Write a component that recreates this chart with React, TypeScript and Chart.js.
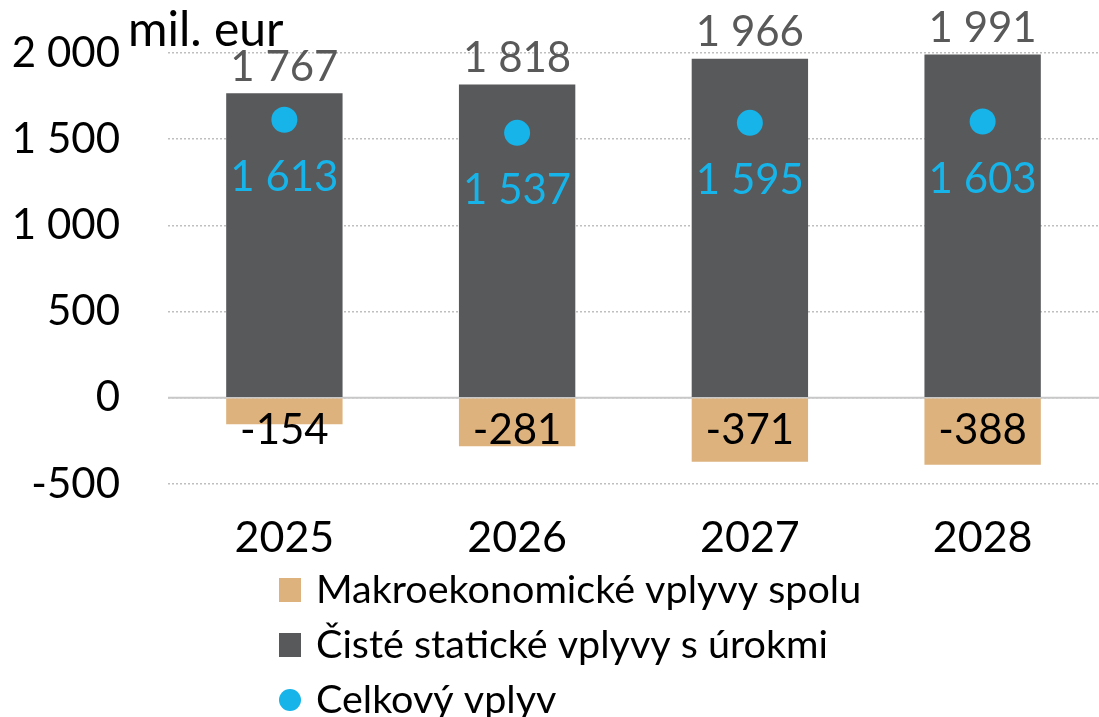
import React, { useEffect, useRef } from "react";
import { Chart, registerables } from "chart.js";

Chart.register(...registerables);

const categories = ["2025", "2026", "2027", "2028"];
const macroValues = [-154, -281, -371, -388];
const staticValues = [1767, 1818, 1966, 1991];
const totalValues = [1613, 1537, 1595, 1603];
const yTicks = [-500, 0, 500, 1000, 1500, 2000];
const legendLabels = ["Makroekonomické vplyvy spolu", "Čisté statické vplyvy s úrokmi", "Celkový vplyv"];
const unitLabel = "mil. eur";

const FONT = "Lato, 'Open Sans', sans-serif";
const FS = 42;
const TAN = "#DDB27C";
const DARK = "#58595B";
const BLUE = "#16B4E9";

const fmt = (v: number) => {
  const s = Math.abs(v).toString().replace(/\B(?=(\d{3})+(?!\d))/g, " ");
  return (v < 0 ? "-" : "") + s;
};

const labelsPlugin = {
  id: "customLabels",
  beforeDatasetsDraw(chart: any) {
    const { ctx, chartArea, scales } = chart;
    const y0 = scales.y.getPixelForValue(0);
    ctx.save();
    ctx.strokeStyle = "#C8C8C8";
    ctx.lineWidth = 2;
    ctx.beginPath();
    ctx.moveTo(chartArea.left, y0);
    ctx.lineTo(chartArea.right, y0);
    ctx.stroke();
    ctx.restore();
  },
  afterDatasetsDraw(chart: any) {
    const { ctx, scales } = chart;
    const y0 = scales.y.getPixelForValue(0);
    ctx.save();
    ctx.font = `${FS}px ${FONT}`;
    ctx.textAlign = "center";
    ctx.textBaseline = "middle";
    const mMacro = chart.getDatasetMeta(0);
    const mStatic = chart.getDatasetMeta(1);
    const mTotal = chart.getDatasetMeta(2);
    mStatic.data.forEach((el: any, i: number) => {
      ctx.fillStyle = "#595959";
      ctx.fillText(fmt(staticValues[i]), el.x, el.y - 26);
    });
    mMacro.data.forEach((el: any, i: number) => {
      ctx.fillStyle = "#000000";
      ctx.fillText(fmt(macroValues[i]), el.x, y0 + 33);
    });
    mTotal.data.forEach((el: any, i: number) => {
      ctx.fillStyle = BLUE;
      ctx.fillText(fmt(totalValues[i]), el.x, el.y + 58);
    });
    // unit label
    ctx.fillStyle = "#000";
    ctx.textAlign = "left";
    ctx.textBaseline = "alphabetic";
    ctx.font = `48px ${FONT}`;
    ctx.fillText(unitLabel, 128, 46);
    // legend
    ctx.font = `39.5px ${FONT}`;
    const lx = 279;
    const rows = [590, 645, 700];
    const colors = [TAN, DARK, BLUE];
    rows.forEach((ry, i) => {
      ctx.fillStyle = colors[i];
      if (i < 2) {
        ctx.fillRect(lx, ry - 12, 22, 24);
      } else {
        ctx.beginPath();
        ctx.arc(lx + 11, ry, 11, 0, Math.PI * 2);
        ctx.fill();
      }
      ctx.fillStyle = "#000";
      ctx.textBaseline = "middle";
      ctx.fillText(legendLabels[i], 316, ry);
    });
    ctx.restore();
  },
};

export default function App() {
  const ref = useRef<HTMLCanvasElement>(null);
  useEffect(() => {
    if (!ref.current) return;
    const chart = new Chart(ref.current, {
      type: "bar",
      data: {
        labels: categories,
        datasets: [
          {
            label: legendLabels[0],
            data: macroValues,
            backgroundColor: TAN,
            barPercentage: 0.5,
            categoryPercentage: 1,
            order: 2,
          } as any,
          {
            label: legendLabels[1],
            data: staticValues,
            backgroundColor: DARK,
            barPercentage: 0.5,
            categoryPercentage: 1,
            order: 2,
          },
          {
            type: "line",
            label: legendLabels[2],
            data: totalValues,
            showLine: false,
            pointRadius: 13,
            pointHoverRadius: 13,
            pointBackgroundColor: BLUE,
            pointBorderWidth: 0,
            borderColor: BLUE,
            backgroundColor: BLUE,
            order: 0,
          },
        ],
      },
      options: {
        animation: false,
        responsive: false,
        maintainAspectRatio: false,
        events: [],
        layout: { autoPadding: false, padding: { top: 53, left: 0, right: -4, bottom: 0 } },
        plugins: { legend: { display: false }, tooltip: { enabled: false } },
        scales: {
          x: {
            stacked: true,
            grid: { display: false },
            border: { display: false },
            ticks: { color: "#000", font: { family: FONT, size: 43 }, padding: 20 },
            afterFit: (s: any) => {
              s.height = 717 - 484;
              s.paddingLeft = 0;
              s.paddingRight = 0;
            },
          },
          y: {
            stacked: true,
            min: -500,
            max: 2000,
            afterBuildTicks: (s: any) => {
              s.ticks = yTicks.map((v) => ({ value: v }));
            },
            grid: { color: "#BFBFBF", lineWidth: 1.5, drawTicks: false },
            border: { display: false, dash: [2, 2] },
            ticks: {
              color: "#000",
              font: { family: FONT, size: FS },
              padding: 48,
              callback: (v: any) => fmt(Number(v)),
            },
            afterFit: (s: any) => {
              s.width = 168;
              s.paddingTop = 0;
              s.paddingBottom = 0;
            },
          },
        },
      },
      plugins: [labelsPlugin],
    } as any);
    return () => chart.destroy();
  }, []);
  return (
    <div style={{ position: "fixed", left: 0, top: 0, width: 1099, height: 717, background: "#fff" }}>
      <canvas ref={ref} width={1099} height={717} style={{ display: "block" }} />
    </div>
  );
}
